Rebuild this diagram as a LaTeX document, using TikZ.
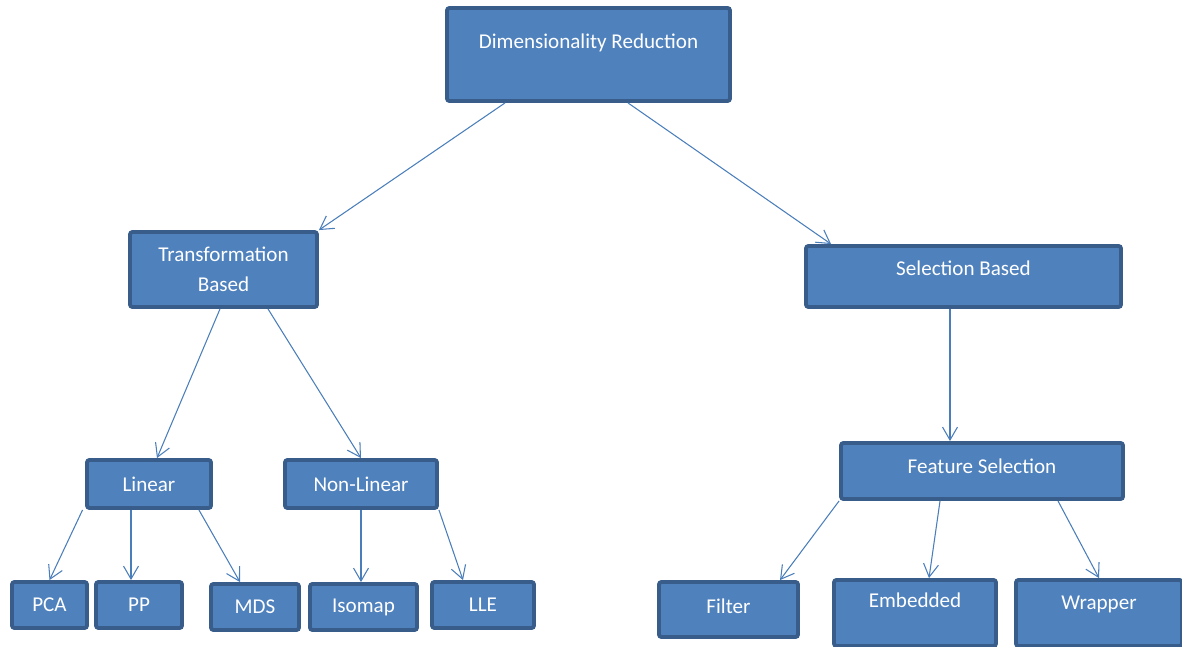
\documentclass[tikz,border=0pt]{standalone}
\usepackage{fontspec}
\setmainfont{Carlito}
\usetikzlibrary{arrows.meta}
\definecolor{boxfill}{HTML}{4F81BD}
\definecolor{boxline}{HTML}{385D8A}
\definecolor{linkline}{HTML}{4A7EBB}
\begin{document}
\begin{tikzpicture}[
    box/.style={rectangle, draw=boxline, fill=boxfill, line width=2.2pt, rounded corners=0.5mm, align=center, text=white, font=\fontsize{12}{17}\selectfont, inner sep=2pt},
    lift/.style={text depth=#1},
    arrow/.style={->, >={Straight Barb[length=2.6mm, width=3mm]}, draw=linkline, line width=0.6pt}
]
\useasboundingbox (0,0) rectangle (23.64,12.92);

% Nodes
\node[box, minimum width=5.66cm, minimum height=1.86cm, lift=0.55cm] (dimred) at (11.77, 11.83) {Dimensionality Reduction};

\node[box, minimum width=3.74cm, minimum height=1.50cm] (transf) at (4.47, 7.53) {Transformation\\Based};
\node[box, minimum width=6.30cm, minimum height=1.22cm, lift=0.33cm] (selbased) at (19.27, 7.39) {Selection Based};

\node[box, minimum width=2.48cm, minimum height=0.96cm] (linear)    at (2.98, 3.24) {Linear};
\node[box, minimum width=3.04cm, minimum height=0.96cm] (nonlinear) at (7.22, 3.24) {Non-Linear};
\node[box, minimum width=5.64cm, minimum height=1.12cm, lift=0.2cm] (featsel) at (19.64, 3.50) {Feature Selection};

\node[box, minimum width=1.50cm, minimum height=0.92cm] (pca)    at (0.99, 0.82) {PCA};
\node[box, minimum width=1.72cm, minimum height=0.92cm] (pp)     at (2.78, 0.82) {PP};
\node[box, minimum width=1.76cm, minimum height=0.92cm] (mds)    at (5.10, 0.78) {MDS};
\node[box, minimum width=2.14cm, minimum height=0.92cm] (isomap) at (7.27, 0.78) {Isomap};
\node[box, minimum width=2.04cm, minimum height=0.92cm] (lle)    at (9.66, 0.82) {LLE};

\node[box, minimum width=2.78cm, minimum height=1.10cm, lift=0.15cm] (filter)   at (14.57, 0.73) {Filter};
\node[box, minimum width=3.24cm, minimum height=1.32cm, lift=0.5cm]  (embedded) at (18.30, 0.66) {Embedded};
\node[box, minimum width=3.32cm, minimum height=1.32cm, lift=0.4cm]  (wrapper)  at (21.98, 0.66) {Wrapper};

% Top level
\draw[arrow] ([xshift=-1.67cm]dimred.south) -- (transf.north east);
\draw[arrow] ([xshift=0.79cm]dimred.south) -- ([xshift=0.54cm]selbased.north west);

% Transformation branch
\draw[arrow] ([xshift=-0.07cm]transf.south) -- ([xshift=0.16cm]linear.north);
\draw[arrow] ([xshift=0.89cm]transf.south) -- (nonlinear.north);

\draw[arrow] ([xshift=-0.05cm]linear.south west) -- (pca.north);
\draw[arrow] ([xshift=-0.36cm]linear.south) -- ([xshift=-0.36cm]linear.south |- pp.north);
\draw[arrow] ([xshift=-0.28cm]linear.south east) -- ([xshift=-0.3cm]mds.north);

\draw[arrow] (nonlinear.south) -- (nonlinear.south |- isomap.north);
\draw[arrow] (nonlinear.south east) -- ([xshift=-0.4cm]lle.north);

% Selection branch
\draw[arrow] ([xshift=-0.27cm]selbased.south) -- ([xshift=-0.27cm]selbased.south |- featsel.north);

\draw[arrow] (featsel.south west) -- ([xshift=1.03cm]filter.north);
\draw[arrow] ([xshift=-0.84cm]featsel.south) -- ([xshift=0.28cm]embedded.north);
\draw[arrow] ([xshift=1.52cm]featsel.south) -- (wrapper.north);

\end{tikzpicture}
\end{document}
